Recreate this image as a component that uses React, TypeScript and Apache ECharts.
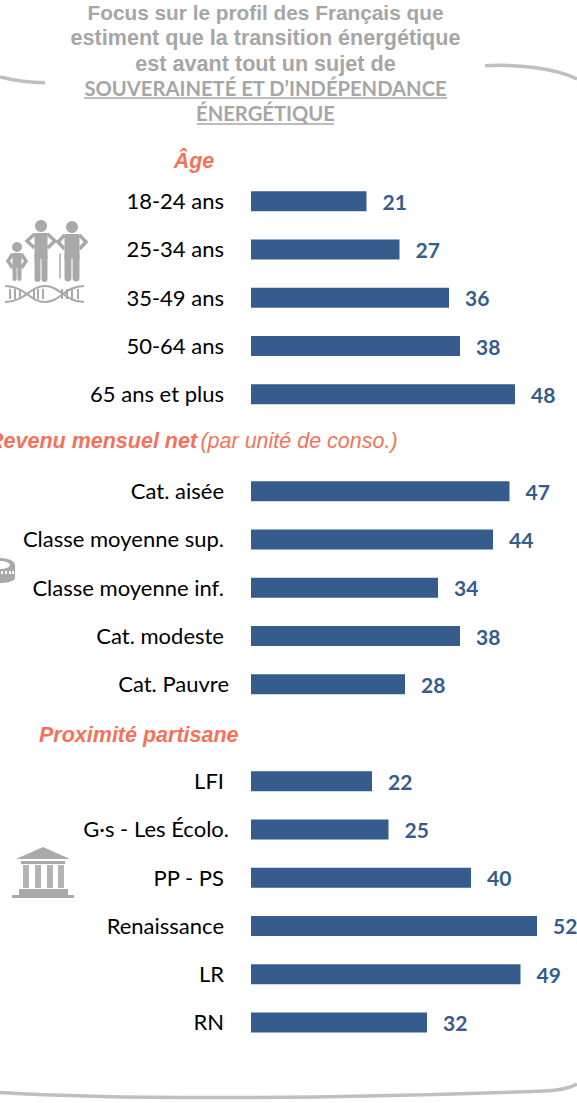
import React, { useEffect, useRef } from "react";
import * as echarts from "echarts";

const ageCategories = ["18-24 ans", "25-34 ans", "35-49 ans", "50-64 ans", "65 ans et plus"];
const ageValues = [21, 27, 36, 38, 48];
const revenuCategories = ["Cat. aisée", "Classe moyenne sup.", "Classe moyenne inf.", "Cat. modeste", "Cat. Pauvre"];
const revenuValues = [47, 44, 34, 38, 28];
const partiCategories = ["LFI", "G·s - Les Écolo.", "PP - PS", "Renaissance", "LR", "RN"];
const partiValues = [22, 25, 40, 52, 49, 32];
const shiftedLabels = ["Cat. Pauvre", "G·s - Les Écolo."];
const titleLines = [
  "Focus sur le profil des Français que",
  "estiment que la transition énergétique",
  "est avant tout un sujet de",
  "SOUVERAINETÉ ET D’INDÉPENDANCE",
  "ÉNERGÉTIQUE",
];

const BAR = "#365c8d";
const GREY = "#a6a6a6";
const ICON = "#a9a9a9";
const CORAL = "#f4725b";
const CURVE = "#bfbfbf";
const LABEL_FONT = "Lato";
const HEAD_FONT = "Liberation Sans";

export default function App() {
  const ref = useRef<HTMLDivElement>(null);
  useEffect(() => {
    document.body.style.margin = "0";
    const chart = echarts.init(ref.current!, undefined, { renderer: "svg" });
    const panels = [
      { cats: ageCategories, vals: ageValues, top: 177, height: 241.5 },
      { cats: revenuCategories, vals: revenuValues, top: 467, height: 241.5 },
      { cats: partiCategories, vals: partiValues, top: 757, height: 289.5 },
    ];
    const titleFonts = [
      `bold 20.8px "${HEAD_FONT}"`,
      `bold 21.6px "${HEAD_FONT}"`,
      `bold 21.6px "${HEAD_FONT}"`,
      `bold 20.2px "${LABEL_FONT}"`,
      `bold 20.2px "${LABEL_FONT}"`,
    ];
    const headText = (text: string, y: number, font: string) => ({
      type: "text", x: 265.5, y,
      style: { text, fill: GREY, font, align: "center", verticalAlign: "middle" },
    });
    const rect = (x: number, y: number, width: number, height: number, fill = ICON) => ({
      type: "rect", shape: { x, y, width, height }, style: { fill },
    });
    const limb = (x1: number, y1: number, x2: number, y2: number, w: number) => ({
      type: "line", shape: { x1, y1, x2, y2 }, style: { stroke: ICON, lineWidth: w, lineCap: "round" },
    });
    const curve = (x1: number, y1: number, cpx1: number, cpy1: number, cpx2: number, cpy2: number, x2: number, y2: number) => ({
      type: "bezierCurve", shape: { x1, y1, cpx1, cpy1, cpx2, cpy2, x2, y2 },
      style: { stroke: CURVE, lineWidth: 3.5, fill: "none" },
    });
    const person = (cx: number, headY: number, r: number, shoulder: number, foot: number, w: number) => [
      { type: "circle", shape: { cx, cy: headY, r }, style: { fill: ICON } },
      rect(cx - w / 2, headY + r + 1, w, (foot - headY - r) * 0.55),
      limb(cx - w * 0.27, headY + r + (foot - headY - r) * 0.5, cx - w * 0.27, foot, w * 0.46),
      limb(cx + w * 0.27, headY + r + (foot - headY - r) * 0.5, cx + w * 0.27, foot, w * 0.46),
      { type: "polyline", shape: { points: [[cx - w / 2, headY + r + 2], [cx - shoulder, headY + r + 9], [cx - w / 2, headY + r + 16]] }, style: { stroke: ICON, lineWidth: 3.5, fill: "none" } },
      { type: "polyline", shape: { points: [[cx + w / 2, headY + r + 2], [cx + shoulder, headY + r + 9], [cx + w / 2, headY + r + 16]] }, style: { stroke: ICON, lineWidth: 3.5, fill: "none" } },
    ];
    const dnaRungs = [10, 15, 20, 34, 38, 43, 62, 67, 72, 78];
    const dnaStroke = { stroke: ICON, lineWidth: 2, fill: "none" };
    const graphic: any[] = [
      ...titleLines.map((t, i) => headText(t, [12, 37, 63, 88, 113][i], titleFonts[i])),
      { type: "line", shape: { x1: 84, y1: 98, x2: 447, y2: 98 }, style: { stroke: GREY, lineWidth: 1.5 } },
      { type: "line", shape: { x1: 197, y1: 124, x2: 334, y2: 124 }, style: { stroke: GREY, lineWidth: 1.5 } },
      { type: "text", x: 194, y: 161, style: { text: "Âge", fill: CORAL, font: `italic bold 21.5px "${HEAD_FONT}"`, align: "center", verticalAlign: "middle" } },
      {
        type: "text", x: -12, y: 441,
        style: {
          text: "{b|Revenu mensuel net} {n|(par unité de conso.)}", fill: CORAL, verticalAlign: "middle",
          rich: {
            b: { font: `italic bold 21.5px "${HEAD_FONT}"`, fill: CORAL },
            n: { font: `italic 21.5px "${HEAD_FONT}"`, fill: CORAL },
          },
        },
      },
      { type: "text", x: 39, y: 735, style: { text: "Proximité partisane", fill: CORAL, font: `italic bold 21.5px "${HEAD_FONT}"`, verticalAlign: "middle" } },
      curve(0, 77, 12, 80, 28, 82.7, 45, 82.7),
      curve(485, 65.7, 515, 64, 555, 68, 577, 79),
      curve(0, 1092.5, 120, 1100, 330, 1099, 545, 1091),
      curve(545, 1091, 558, 1090.5, 568, 1089, 577, 1084),
      // people icon
      ...person(17, 247, 5, 9, 279, 9),
      ...person(41, 226, 6, 14, 279, 13),
      ...person(72, 227, 6, 14, 278, 15),
      limb(60, 254, 60, 278, 1.5),
      // DNA icon
      { type: "bezierCurve", shape: { x1: 5, y1: 286, cpx1: 25, cpy1: 286, cpx2: 30, cpy2: 302, x2: 45, y2: 302 }, style: dnaStroke },
      { type: "bezierCurve", shape: { x1: 5, y1: 302, cpx1: 25, cpy1: 302, cpx2: 30, cpy2: 286, x2: 45, y2: 286 }, style: dnaStroke },
      { type: "bezierCurve", shape: { x1: 45, y1: 286, cpx1: 60, cpy1: 286, cpx2: 65, cpy2: 302, x2: 84, y2: 302 }, style: dnaStroke },
      { type: "bezierCurve", shape: { x1: 45, y1: 302, cpx1: 60, cpy1: 302, cpx2: 65, cpy2: 286, x2: 84, y2: 286 }, style: dnaStroke },
      ...dnaRungs.map((x) => ({ type: "line", shape: { x1: x, y1: 289, x2: x, y2: 299 }, style: { stroke: ICON, lineWidth: 2 } })),
      // coin icon (clipped at the left edge)
      { type: "ellipse", shape: { cx: 0, cy: 565, rx: 15, ry: 7 }, style: { fill: ICON } },
      rect(-2, 565, 17, 13, ICON),
      { type: "ellipse", shape: { cx: 0, cy: 578, rx: 15, ry: 5 }, style: { fill: ICON } },
      { type: "ellipse", shape: { cx: 0, cy: 565, rx: 10, ry: 4 }, style: { fill: "#ffffff" } },
      ...[1, 5, 9, 12].map((x) => rect(x, 571, 2, 3, "#ffffff")),
      // temple icon
      { type: "polygon", shape: { points: [[16, 859], [43, 847], [70, 859]] }, style: { fill: ICON } },
      rect(21, 861, 44, 3),
      ...[23, 35, 47, 58].map((x) => rect(x, 865, 6, 23, "#b4b4b4")),
      rect(19, 889, 49, 6),
      rect(12, 895, 62, 3),
    ];
    chart.setOption({
      animation: false,
      backgroundColor: "#ffffff",
      graphic,
      grid: panels.map((p) => ({ left: 251, width: 324.5, top: p.top, height: p.height })),
      xAxis: panels.map((_, i) => ({ type: "value", gridIndex: i, min: 0, max: 59, show: false })),
      yAxis: panels.map((p, i) => ({
        type: "category", gridIndex: i, inverse: true, data: p.cats,
        axisLine: { show: false }, axisTick: { show: false },
        axisLabel: {
          margin: 22, color: "#000000", fontFamily: LABEL_FONT, fontSize: 22,
          formatter: (v: string) => (shiftedLabels.includes(v) ? `{s|${v}}` : `{n|${v}}`),
          rich: {
            s: { fontFamily: LABEL_FONT, fontSize: 22, color: "#000000", padding: [0, 0, 1, 0] },
            n: { fontFamily: LABEL_FONT, fontSize: 22, color: "#000000", padding: [0, 5, 1, 0] },
          },
        },
      })),
      series: panels.map((p, i) => ({
        type: "bar", xAxisIndex: i, yAxisIndex: i, data: p.vals, barWidth: 20,
        itemStyle: { color: BAR },
        label: { show: true, position: "right", distance: 16, color: BAR, fontFamily: LABEL_FONT, fontWeight: "bold", fontSize: 21 },
      })),
    });
    return () => chart.dispose();
  }, []);
  return <div ref={ref} style={{ width: 577, height: 1103 }} />;
}
